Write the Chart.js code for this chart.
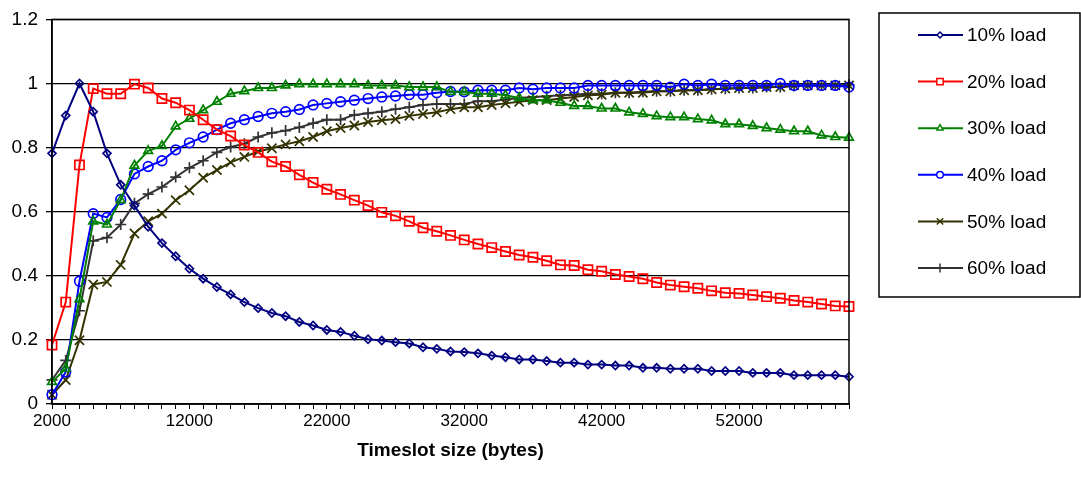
<!DOCTYPE html>
<html>
<head>
<meta charset="utf-8">
<script src="https://cdn.jsdelivr.net/npm/chart.js@4/dist/chart.umd.min.js"></script>
<style>
  html, body { margin: 0; padding: 0; background: #fff; }
  #wrap { width: 1081px; height: 488px; position: relative; }
</style>
</head>
<body>
<div id="wrap"><canvas id="graph"></canvas></div>
<script>
// timeslot sizes (bytes)
var timeslots = [2000, 3000, 4000, 5000, 6000, 7000, 8000, 9000, 10000, 11000,
    12000, 13000, 14000, 15000, 16000, 17000, 18000, 19000, 20000, 21000,
    22000, 23000, 24000, 25000, 26000, 27000, 28000, 29000, 30000, 31000,
    32000, 33000, 34000, 35000, 36000, 37000, 38000, 39000, 40000, 41000,
    42000, 43000, 44000, 45000, 46000, 47000, 48000, 49000, 50000, 51000,
    52000, 53000, 54000, 55000, 56000, 57000, 58000, 59000, 60000];

var load10 = [0.782, 0.900, 1.000, 0.912, 0.782, 0.684, 0.619, 0.553, 0.502, 0.461,
    0.422, 0.391, 0.365, 0.342, 0.318, 0.299, 0.284, 0.274, 0.256, 0.245,
    0.231, 0.225, 0.213, 0.202, 0.198, 0.193, 0.189, 0.177, 0.172, 0.164,
    0.162, 0.158, 0.151, 0.146, 0.139, 0.139, 0.134, 0.129, 0.129, 0.123,
    0.123, 0.120, 0.120, 0.113, 0.113, 0.110, 0.110, 0.110, 0.103, 0.103,
    0.103, 0.097, 0.097, 0.097, 0.090, 0.090, 0.090, 0.090, 0.085];
var load20 = [0.184, 0.318, 0.746, 0.984, 0.968, 0.968, 0.998, 0.986, 0.953, 0.940,
    0.917, 0.887, 0.856, 0.836, 0.808, 0.785, 0.756, 0.741, 0.715, 0.691,
    0.670, 0.654, 0.636, 0.619, 0.598, 0.587, 0.570, 0.550, 0.539, 0.526,
    0.512, 0.499, 0.488, 0.476, 0.465, 0.458, 0.447, 0.434, 0.432, 0.419,
    0.414, 0.404, 0.398, 0.391, 0.379, 0.371, 0.366, 0.361, 0.353, 0.347,
    0.345, 0.340, 0.335, 0.330, 0.323, 0.318, 0.312, 0.306, 0.304];
var load30 = [0.069, 0.110, 0.327, 0.570, 0.560, 0.636, 0.744, 0.790, 0.805, 0.866,
    0.890, 0.917, 0.943, 0.968, 0.976, 0.986, 0.986, 0.994, 0.998, 0.998,
    0.998, 0.998, 0.998, 0.994, 0.994, 0.994, 0.989, 0.989, 0.989, 0.974,
    0.974, 0.968, 0.968, 0.963, 0.955, 0.948, 0.948, 0.940, 0.930, 0.930,
    0.922, 0.922, 0.910, 0.905, 0.898, 0.895, 0.895, 0.889, 0.885, 0.873,
    0.873, 0.868, 0.861, 0.856, 0.851, 0.851, 0.838, 0.833, 0.831];
var load40 = [0.029, 0.100, 0.383, 0.594, 0.582, 0.638, 0.718, 0.741, 0.759, 0.793,
    0.815, 0.833, 0.856, 0.876, 0.887, 0.897, 0.907, 0.912, 0.919, 0.933,
    0.938, 0.943, 0.948, 0.953, 0.958, 0.961, 0.965, 0.965, 0.971, 0.975,
    0.974, 0.979, 0.979, 0.979, 0.986, 0.982, 0.986, 0.986, 0.986, 0.994,
    0.994, 0.994, 0.994, 0.994, 0.994, 0.989, 0.998, 0.994, 0.998, 0.994,
    0.994, 0.994, 0.994, 1.000, 0.994, 0.994, 0.994, 0.994, 0.989];
var load50 = [0.029, 0.075, 0.199, 0.373, 0.381, 0.434, 0.532, 0.570, 0.594, 0.636,
    0.667, 0.706, 0.730, 0.754, 0.771, 0.788, 0.798, 0.810, 0.820, 0.833,
    0.851, 0.861, 0.869, 0.880, 0.885, 0.889, 0.899, 0.905, 0.910, 0.920,
    0.926, 0.926, 0.933, 0.938, 0.943, 0.948, 0.948, 0.953, 0.958, 0.963,
    0.965, 0.971, 0.971, 0.971, 0.976, 0.976, 0.979, 0.979, 0.982, 0.984,
    0.986, 0.986, 0.989, 0.989, 0.994, 0.994, 0.994, 0.994, 0.994];
var load60 = [0.075, 0.136, 0.291, 0.509, 0.519, 0.560, 0.626, 0.655, 0.677, 0.708,
    0.737, 0.759, 0.785, 0.802, 0.812, 0.833, 0.846, 0.853, 0.863, 0.876,
    0.887, 0.887, 0.902, 0.907, 0.912, 0.920, 0.926, 0.933, 0.936, 0.936,
    0.936, 0.945, 0.945, 0.950, 0.955, 0.958, 0.960, 0.963, 0.965, 0.968,
    0.968, 0.971, 0.971, 0.974, 0.976, 0.976, 0.979, 0.979, 0.982, 0.984,
    0.986, 0.986, 0.989, 0.989, 0.992, 0.994, 0.994, 0.994, 0.996];

var seriesNames = ["10% load", "20% load", "30% load", "40% load", "50% load", "60% load"];
var seriesColors = ["#000080", "#ff0000", "#008000", "#0000ff", "#333300", "#333333"];
var seriesMarkers = ["rectRot", "rect", "triangle", "circle", "crossRot", "cross"];
var markerSizes = [4, 6.5, 5, 4.8, 6.5, 5.5];
var legendMarkerSizes = [3, 4.5, 3.5, 3.3, 4.5, 4.5];

var fontFamily = "'Liberation Sans', Arial, sans-serif";

function makeSet(i, values) {
    return {
        label: seriesNames[i],
        data: values,
        borderColor: seriesColors[i],
        backgroundColor: "#ffffff",
        pointBorderColor: seriesColors[i],
        pointBackgroundColor: "rgba(0,0,0,0)",
        pointStyle: seriesMarkers[i],
        pointRadius: markerSizes[i],
        pointBorderWidth: 1.7,
        borderWidth: 2,
        tension: 0,
        fill: false
    };
}

// frame round the plot area (top and right edges)
var framePlugin = {
    id: 'frame',
    afterDatasetsDraw: function (chart) {
        var a = chart.chartArea, ctx = chart.ctx;
        ctx.save();
        ctx.strokeStyle = "#000";
        ctx.lineWidth = 1.5;
        ctx.strokeRect(a.left, a.top, a.right - a.left, a.bottom - a.top);
        ctx.restore();
    }
};

// Excel-style legend: boxed, line sample with marker
var legendPlugin = {
    id: 'boxLegend',
    afterDraw: function (chart) {
        var ctx = chart.ctx;
        var bx = 879, by = 13, bw = 201, bh = 284;
        ctx.save();
        ctx.strokeStyle = "#000";
        ctx.lineWidth = 1.5;
        ctx.strokeRect(bx, by, bw, bh);
        chart.data.datasets.forEach(function (ds, i) {
            var y = 35 + i * 46.6;
            ctx.strokeStyle = ds.borderColor;
            ctx.lineWidth = 2;
            ctx.beginPath();
            ctx.moveTo(918, y);
            ctx.lineTo(963, y);
            ctx.stroke();
            ctx.fillStyle = "#ffffff";
            ctx.strokeStyle = ds.borderColor;
            ctx.lineWidth = 1.5;
            Chart.helpers.drawPoint(ctx, {
                pointStyle: ds.pointStyle,
                radius: legendMarkerSizes[i],
                borderWidth: 1.5
            }, 940, y);
            ctx.fillStyle = "#000";
            ctx.font = "19px " + fontFamily;
            ctx.textAlign = "left";
            ctx.textBaseline = "middle";
            ctx.fillText(ds.label, 967, y + 1);
        });
        ctx.restore();
    }
};

var graph_context = document.getElementById('graph').getContext('2d');
var graph = new Chart(graph_context, {
    type: 'line',
    data: {
        labels: timeslots,
        datasets: [
            makeSet(0, load10),
            makeSet(1, load20),
            makeSet(2, load30),
            makeSet(3, load40),
            makeSet(4, load50),
            makeSet(5, load60)
        ]
    },
    options: {
        responsive: true,
        maintainAspectRatio: false,
        animation: false,
        layout: { padding: { top: 13, right: 232, left: 0, bottom: 22 } },
        plugins: {
            legend: { display: false },
            tooltip: { enabled: false }
        },
        scales: {
            x: {
                offset: false,
                afterFit: function (scale) { scale.height = 62; },
                grid: { drawOnChartArea: false, drawTicks: true, tickLength: 5, color: "#000", lineWidth: 1 },
                border: { color: "#000", width: 1.5 },
                ticks: {
                    autoSkip: false,
                    maxRotation: 0,
                    color: "#000",
                    padding: 2,
                    font: { family: fontFamily, size: 17 },
                    callback: function (value, index) {
                        return index % 10 === 0 ? this.getLabelForValue(value) : '';
                    }
                },
                title: {
                    display: true,
                    text: "Timeslot size (bytes)",
                    color: "#000",
                    padding: { top: 10 },
                    font: { family: fontFamily, size: 19, weight: 'bold' }
                }
            },
            y: {
                min: 0,
                max: 1.2,
                afterFit: function (scale) { scale.width = 52; },
                grid: { color: "#000", lineWidth: 1.3, tickLength: 6 },
                border: { color: "#000", width: 1.5 },
                ticks: {
                    stepSize: 0.2,
                    color: "#000",
                    padding: 8,
                    font: { family: fontFamily, size: 19 },
                    callback: function (value) {
                        return String(parseFloat(value.toFixed(1)));
                    }
                }
            }
        }
    },
    plugins: [framePlugin, legendPlugin]
});
</script>
</body>
</html>
